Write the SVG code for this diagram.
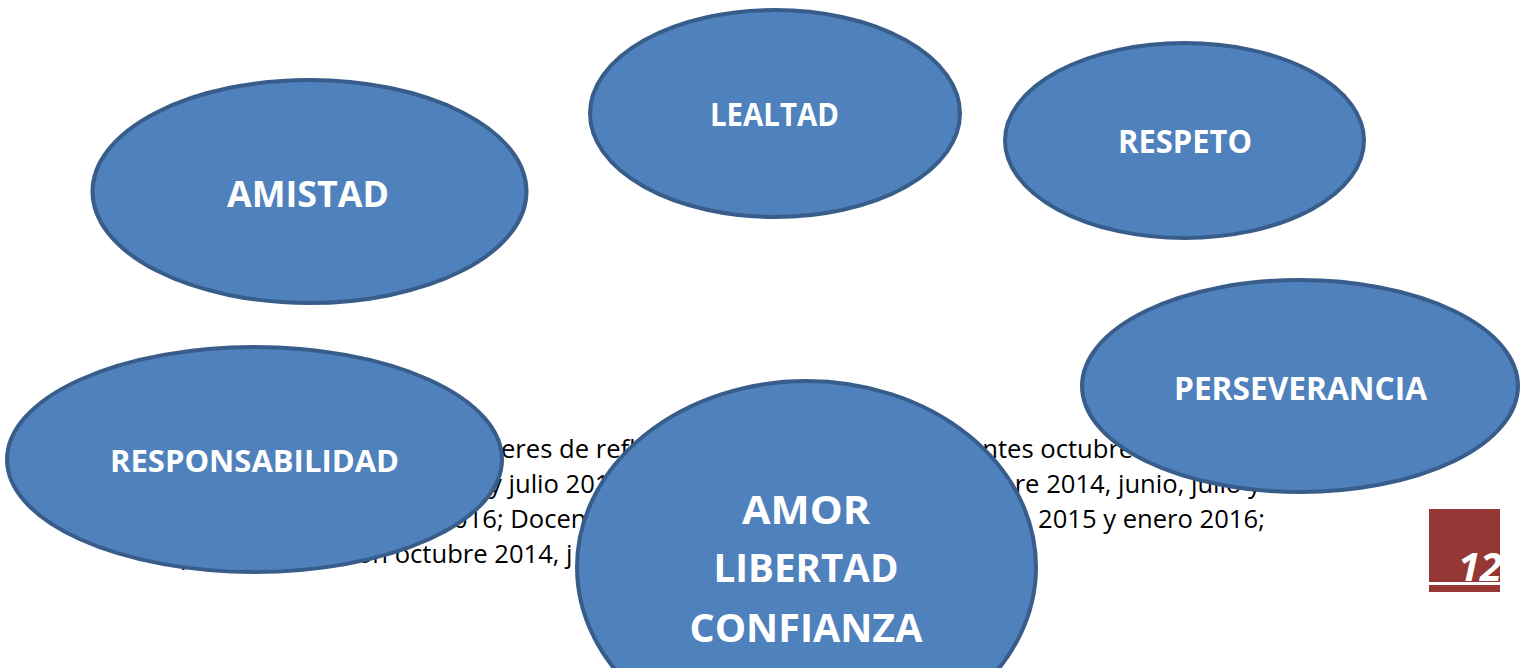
<svg xmlns="http://www.w3.org/2000/svg" width="1528" height="668" viewBox="0 0 1528 668">
<style>
.bg{font-family:"Open Sans","Liberation Sans",sans-serif;font-size:25.6px;fill:#000}
.node ellipse{fill:#4f81bd;stroke:#385d8a;stroke-width:4}
.lbl{font-family:"Open Sans","Liberation Sans",sans-serif;font-weight:bold;fill:#fff;text-anchor:middle}
</style>
<rect width="1528" height="668" fill="#fff"/>
<g id="background-text">
<text class="bg" x="501" y="458">eres de refl</text>
<text class="bg" x="968" y="458">antes octubre</text>
<text class="bg" x="489" y="493">y julio 201</text>
<text class="bg" x="999" y="493">bre 2014, junio, julio y</text>
<text class="bg" x="453" y="528">016; Docen</text>
<text class="bg" x="1038" y="528">2015 y enero 2016;</text>
<text class="bg" x="180" y="564">p</text>
<text class="bg" x="324" y="563">ación octubre 2014, j</text>
</g>
<g id="connectors"></g>
<g id="amistad" class="node">
<ellipse cx="309.5" cy="191.5" rx="217" ry="111.5"/>
<text class="lbl" x="308" y="207" font-size="35" textLength="162" lengthAdjust="spacingAndGlyphs">AMISTAD</text>
</g>
<g id="lealtad" class="node">
<ellipse cx="775" cy="113.5" rx="185" ry="103.5"/>
<text class="lbl" x="774.5" y="126" font-size="32" textLength="129" lengthAdjust="spacingAndGlyphs">LEALTAD</text>
</g>
<g id="respeto" class="node">
<ellipse cx="1184.5" cy="140.5" rx="179.5" ry="97.5"/>
<text class="lbl" x="1185" y="153" font-size="32" textLength="134" lengthAdjust="spacingAndGlyphs">RESPETO</text>
</g>
<g id="perseverancia" class="node">
<ellipse cx="1300" cy="386" rx="218" ry="106"/>
<text class="lbl" x="1300.5" y="400" font-size="32" textLength="253" lengthAdjust="spacingAndGlyphs">PERSEVERANCIA</text>
</g>
<g id="responsabilidad" class="node">
<ellipse cx="254.5" cy="459.5" rx="247.5" ry="112.5"/>
<text class="lbl" x="254.5" y="472" font-size="31" textLength="289" lengthAdjust="spacingAndGlyphs">RESPONSABILIDAD</text>
</g>
<g id="amor" class="node">
<ellipse cx="806.5" cy="567" rx="229.5" ry="186"/>
<text class="lbl" x="806" y="524" font-size="40" textLength="128" lengthAdjust="spacingAndGlyphs">AMOR</text>
<text class="lbl" x="806" y="582" font-size="40" textLength="185" lengthAdjust="spacingAndGlyphs">LIBERTAD</text>
<text class="lbl" x="806" y="642" font-size="40" textLength="233" lengthAdjust="spacingAndGlyphs">CONFIANZA</text>
</g>
<g id="page-number">
<rect x="1429" y="509" width="71" height="73" fill="#953735"/>
<rect x="1429" y="585" width="71" height="7" fill="#953735"/>
<text x="1458" y="581" font-family="'Open Sans','Liberation Sans',sans-serif" font-weight="bold" font-style="italic" font-size="40" fill="#fff">12</text>
</g>
</svg>
